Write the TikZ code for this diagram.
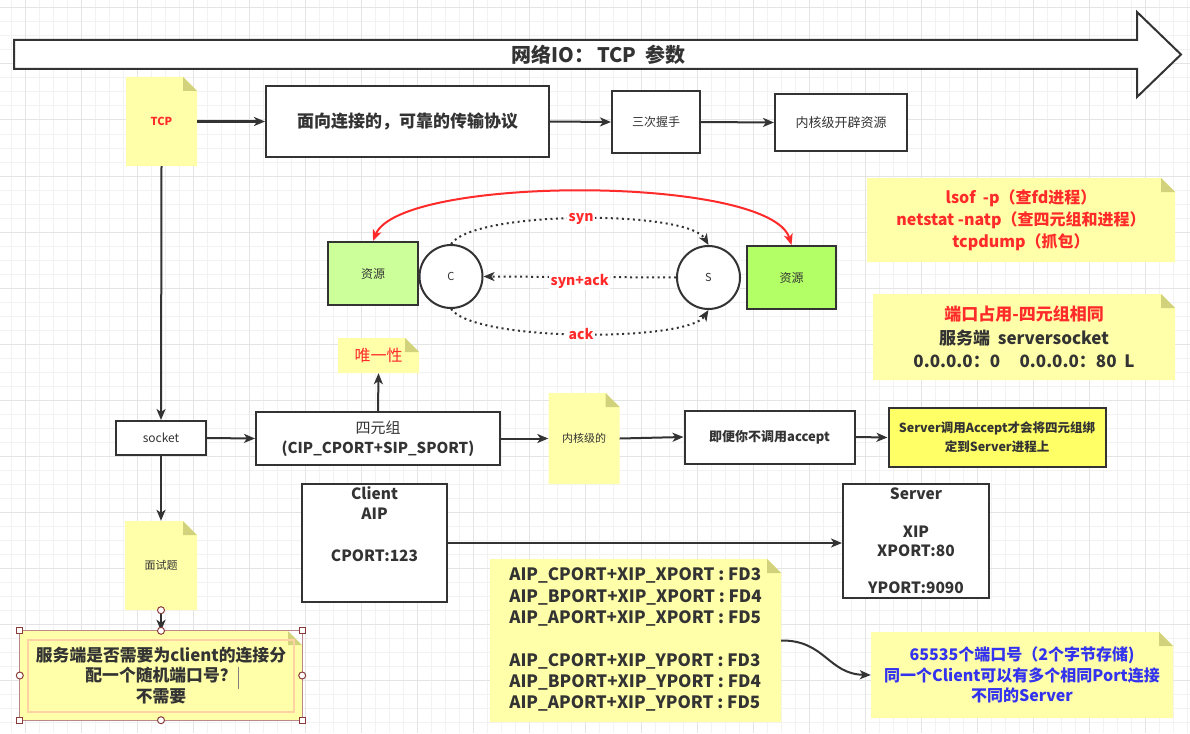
\documentclass[tikz,border=0pt]{standalone}
\usepackage{fontspec}
\setmainfont{Noto Sans CJK SC}
\usetikzlibrary{arrows.meta}
\definecolor{bord}{HTML}{333333}
\definecolor{txt}{HTML}{333333}
\definecolor{notefill}{HTML}{FFFFAA}
\definecolor{foldc}{HTML}{D2D27C}
\definecolor{redt}{HTML}{FF2A2A}
\definecolor{bluet}{HTML}{3333EE}
\definecolor{greenA}{HTML}{CCFF99}
\definecolor{greenB}{HTML}{B3FF66}
\definecolor{yelbox}{HTML}{FFFF66}
\definecolor{gridminor}{HTML}{F2F2F2}
\definecolor{gridmajor}{HTML}{E4E4E4}
\definecolor{selc}{HTML}{8B3A3A}
\newcommand{\fsz}[2]{\fontsize{#1}{#2}\selectfont}
\tikzset{
  every node/.style={text=txt, align=center, inner sep=1pt},
  box/.style={draw=bord, line width=2pt, fill=white},
  conn/.style={draw=bord, line width=2pt, -{Stealth[length=11pt,width=9pt,inset=3pt]}},
  dotc/.style={draw=bord, line width=2pt, dash pattern=on 2pt off 3.5pt, -{Stealth[length=11pt,width=9pt,inset=3pt]}},
  redarr/.style={draw=redt, line width=2pt, {Stealth[length=11pt,width=9pt,inset=3pt]}-{Stealth[length=11pt,width=9pt,inset=3pt]}},
  lab/.style={fill=white, inner sep=1.5pt, text=redt, font=\fsz{14}{16}\bfseries},
  note/.style={path picture={
    \fill[notefill] (path picture bounding box.south west) -- (path picture bounding box.north west)
      -- ([xshift=-14pt]path picture bounding box.north east) -- ([yshift=-14pt]path picture bounding box.north east)
      -- (path picture bounding box.south east) -- cycle;
    \fill[foldc] ([xshift=-14pt]path picture bounding box.north east) -- ([xshift=-14pt,yshift=-14pt]path picture bounding box.north east)
      -- ([yshift=-14pt]path picture bounding box.north east) -- cycle;}},
  handle/.style={draw=selc, fill=white, line width=1pt},
}
\begin{document}
\begin{tikzpicture}[x=1pt,y=-1pt]
\useasboundingbox (0,0) rectangle (1190,733);
\fill[white] (0,0) rectangle (1190,733);
% grid
\foreach \i in {0,...,85} {\draw[gridminor, line width=1pt] (11.3+14*\i,0) -- (11.3+14*\i,733);}
\foreach \j in {0,...,52} {\draw[gridminor, line width=1pt] (0,8+14*\j) -- (1190,8+14*\j);}
\foreach \i in {0,...,21} {\draw[gridmajor, line width=1pt] (25.3+56*\i,0) -- (25.3+56*\i,733);}
\foreach \j in {0,...,13} {\draw[gridmajor, line width=1pt] (0,8+56*\j) -- (1190,8+56*\j);}

% title arrow
\draw[bord, line width=2pt, fill=white, line join=miter]
  (14,40) -- (1137,40) -- (1137,12) -- (1181,54.5) -- (1137,97) -- (1137,69) -- (14,69) -- cycle;
\node[font=\fsz{20}{22}\bfseries] (title) at (598.5,55) {网络IO：\,TCP\ \ 参数};

% top row
\node[note, minimum width=71pt, minimum height=89pt, font=\fsz{11}{13}\bfseries, text=redt] (tcp) at (161.5,121.5) {TCP};
\node[box, minimum width=283pt, minimum height=71pt, font=\fsz{17}{20}\bfseries] (b1) at (407.5,121.5) {面向连接的，可靠的传输协议};
\node[box, minimum width=88pt, minimum height=62pt, font=\fsz{12}{14}] (hs) at (656,122) {三次握手};
\node[box, minimum width=132pt, minimum height=57pt, font=\fsz{13}{15}] (kern) at (841,122.5) {内核级开辟资源};
\draw[conn] (tcp.east) -- (b1.west);
\draw[conn] (b1.east) -- (hs.west);
\draw[conn] (hs.east) -- (kern.west);

% handshake
\node[box, fill=greenA, minimum width=90pt, minimum height=63pt, font=\fsz{12}{14}] (res1) at (373,273.5) {资源};
\node[box, circle, minimum size=63pt, font=\fsz{11}{13}] (C) at (451,276.5) {C};
\node[box, circle, minimum size=63pt, font=\fsz{11}{13}] (S) at (708.5,277.5) {S};
\node[box, fill=greenB, minimum width=89pt, minimum height=63pt, font=\fsz{12}{14}] (res2) at (791.5,277.5) {资源};
\draw[redarr] (res1.north) .. controls (400,175) and (770,175) .. (res2.north);
\draw[dotc] (C.north) .. controls (475,210) and (688,210) .. (S.north) node[pos=0.5, lab] {syn};
\draw[dotc] (S.west) -- (C.east) node[midway, lab, yshift=-4pt] {syn+ack};
\draw[dotc] (C.south) .. controls (475,342) and (688,342) .. (S.south) node[pos=0.5, lab] {ack};

% right notes
\node[note, minimum width=308pt, minimum height=84pt, font=\fsz{16}{22}\bfseries, text=redt] (n1) at (1021,220)
  {lsof\ \ -p（查fd进程）\\ netstat -natp（查四元组和进程）\\ tcpdump（抓包）};
\node[note, minimum width=302pt, minimum height=86pt, font=\fsz{17}{23.5}\bfseries] (n2) at (1024,337)
  {{\color{redt}端口占用-四元组相同}\\ 服务端\ \ serversocket\\ 0.0.0.0：0\ \ \ \ \ 0.0.0.0：80\ \ L};

% socket row
\node[box, minimum width=90pt, minimum height=34pt, font=\fsz{12}{14}] (sock) at (161,438) {socket};
\node[box, minimum width=244pt, minimum height=53pt, font=\fsz{15}{20}] (four) at (378,438.5) {四元组\\ \textbf{(CIP\_CPORT+SIP\_SPORT)}};
\node[note, minimum width=81pt, minimum height=35pt, font=\fsz{16}{18}, text=redt] (uniq) at (378.5,355.5) {唯一性};
\node[note, minimum width=71pt, minimum height=91pt, font=\fsz{11}{13}] (knote) at (584,438.5) {内核级的};
\node[box, minimum width=170pt, minimum height=53pt, font=\fsz{13}{15}\bfseries] (acc) at (769.5,437) {即便你不调用accept};
\node[box, fill=yelbox, minimum width=217pt, minimum height=59pt, font=\fsz{12.5}{19}\bfseries] (ybox) at (997,437.5)
  {Server调用Accept才会将四元组绑\\ 定到Server进程上};
\draw[conn] (tcp.south) -- (sock.north);
\draw[conn] (sock.east) -- (four.west);
\draw[conn] (four.north) -- (uniq.south);
\draw[conn] (four.east) -- (knote.west);
\draw[conn] (knote.east) -- (acc.west);
\draw[conn] (acc.east) -- (ybox.west);

% client / server
\node[box, minimum width=145pt, minimum height=118pt] (client) at (374.5,543) {};
\node[anchor=north, font=\fsz{15.5}{20.8}\bfseries] (clientt) at (374.5,485) {Client\\ AIP\\[20.8pt] CPORT:123};
\node[box, minimum width=146pt, minimum height=114pt, font=\fsz{15.5}{18.8}\bfseries] (server) at (916,541)
  {Server\\[18.8pt] XIP\\ XPORT:80\\[18.8pt] YPORT:9090};
\draw[conn] (client.east) -- (client.east -| server.west);

% big note
\node[note, minimum width=291pt, minimum height=163pt, font=\fsz{17}{21.3}\bfseries] (big) at (635.5,640.5)
  {\begin{tabular}{@{}l@{}}AIP\_CPORT+XIP\_XPORT : FD3\\ AIP\_BPORT+XIP\_XPORT : FD4\\ AIP\_APORT+XIP\_XPORT : FD5\\[21.3pt] AIP\_CPORT+XIP\_YPORT : FD3\\ AIP\_BPORT+XIP\_YPORT : FD4\\ AIP\_APORT+XIP\_YPORT : FD5\end{tabular}};
\node[note, minimum width=302pt, minimum height=86pt, font=\fsz{16}{20.5}\bfseries, text=bluet] (blue) at (1022,675)
  {65535个端口号（2个字节存储)\\ 同一个Client可以有多个相同Port连接\\ 不同的Server};
\draw[conn] (big.east) .. controls (825,640) and (828,674) .. (blue.west);

% interview
\node[note, minimum width=72pt, minimum height=89pt, font=\fsz{11}{13}] (mst) at (161,565.5) {面试题};
\node[note, minimum width=282pt, minimum height=89pt, font=\fsz{16.8}{20.5}\bfseries] (bn) at (161,675.5)
  {服务端是否需要为client的连接分\\ 配一个随机端口号？\\ 不需要};
\draw[conn] (sock.south) -- (mst.north);
\draw[conn] (mst.south) -- (bn.north);
% selection decoration
\draw[draw=selc!60, line width=0.8pt] (bn.south west) rectangle (bn.north east);
\draw[draw=orange!35, line width=1.5pt] ([xshift=8pt,yshift=8pt]bn.south west) rectangle ([xshift=-8pt,yshift=-9pt]bn.north east);
\draw[gray, line width=1pt] (238,667) -- (238,689);
\foreach \a in {north west, north east, south west, south east} {\draw[handle] ([xshift=-3pt,yshift=-3pt]bn.\a) rectangle ([xshift=3pt,yshift=3pt]bn.\a);}
\foreach \a in {north, south, east, west} {\draw[handle] (bn.\a) circle (3.5pt);}
\draw[handle] (mst.south) circle (3.5pt);
\end{tikzpicture}
\end{document}
